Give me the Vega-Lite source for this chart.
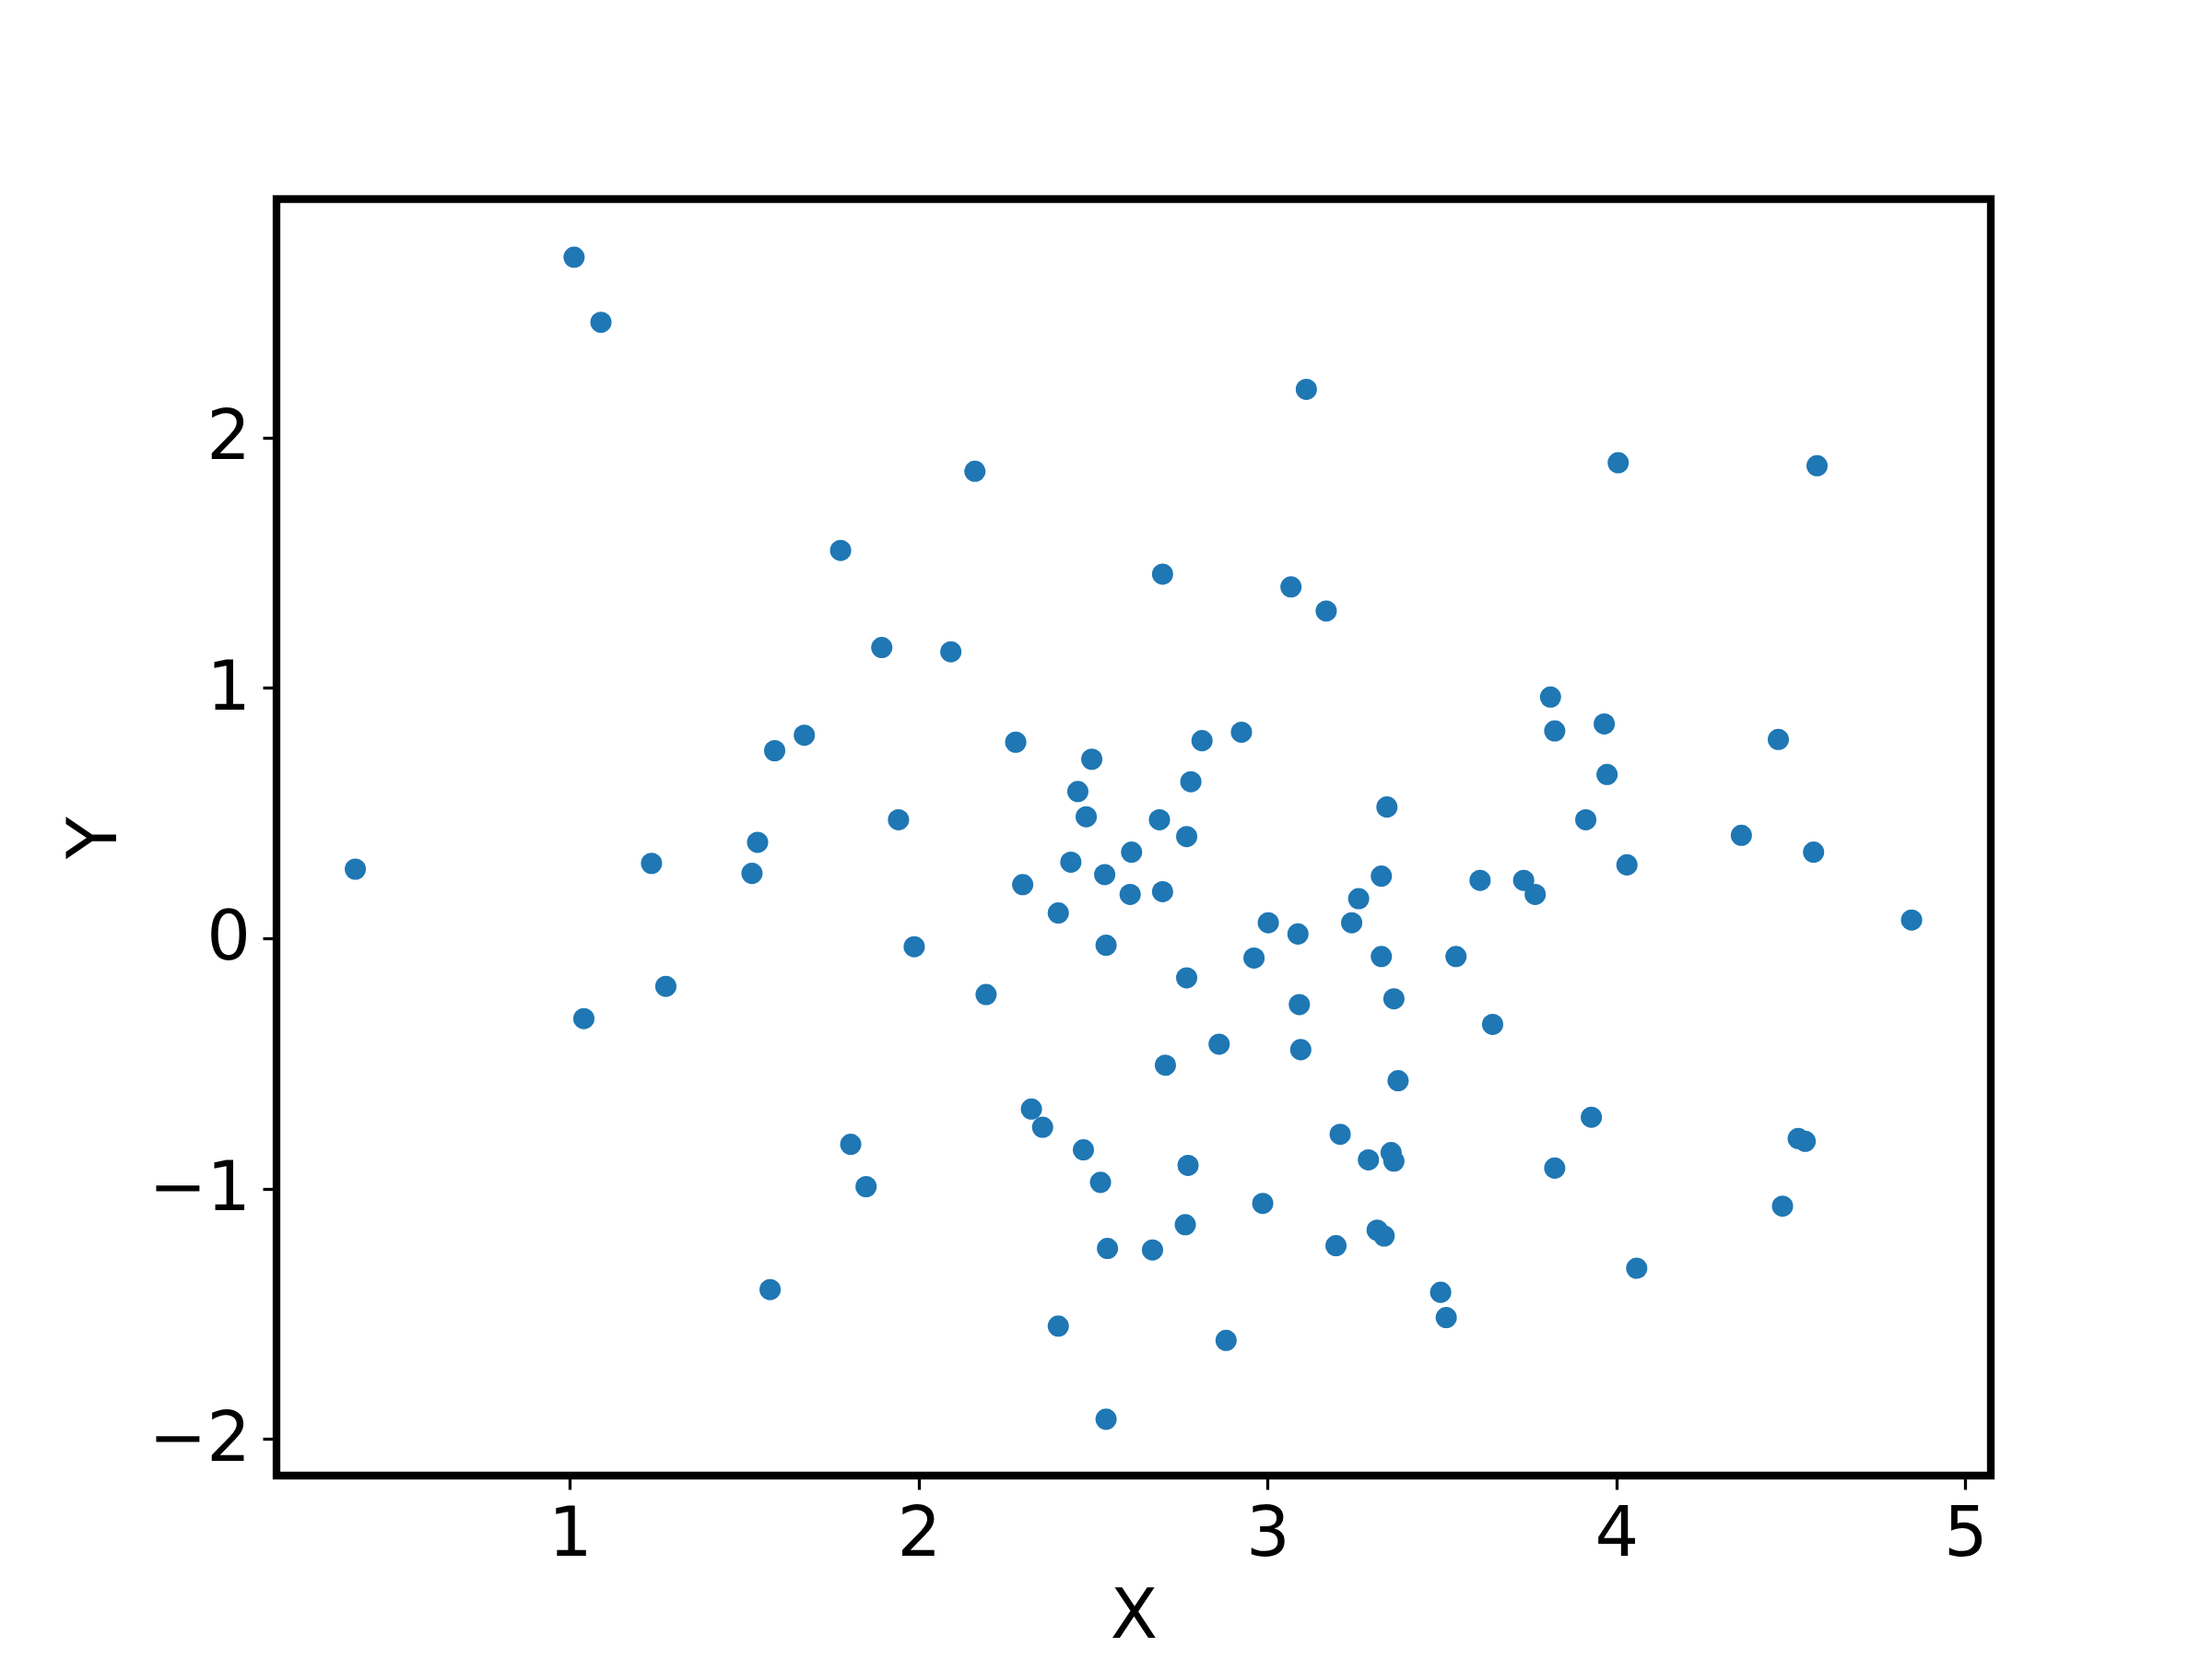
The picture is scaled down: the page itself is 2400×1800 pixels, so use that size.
{
  "$schema": "https://vega.github.io/schema/vega-lite/v6.json",
  "width": 1860,
  "height": 1385,
  "autosize": {"type": "none"},
  "padding": {"left": 300, "top": 216, "right": 240, "bottom": 199},
  "background": "white",
  "config": {
    "view": {"stroke": "black", "strokeWidth": 8.3},
    "font": "DejaVu Sans"
  },
  "data": {"values": [
    {"x":0.385,"y":0.276},{"x":1.012,"y":2.72},{"x":1.089,"y":2.46},{"x":1.040,"y":-0.321},
    {"x":1.234,"y":0.299},{"x":1.275,"y":-0.192},{"x":1.522,"y":0.259},{"x":1.538,"y":0.383},
    {"x":1.587,"y":0.749},{"x":1.672,"y":0.811},{"x":1.574,"y":-1.403},{"x":1.776,"y":1.549},
    {"x":1.805,"y":-0.823},{"x":1.849,"y":-0.992},{"x":1.894,"y":1.161},{"x":1.942,"y":0.473},
    {"x":1.987,"y":-0.034},{"x":2.092,"y":1.144},{"x":2.161,"y":1.865},{"x":2.193,"y":-0.225},
    {"x":2.278,"y":0.783},{"x":2.298,"y":0.214},{"x":2.323,"y":-0.682},{"x":2.355,"y":-0.755},
    {"x":2.400,"y":0.101},{"x":2.400,"y":-1.549},{"x":2.436,"y":0.304},{"x":2.456,"y":0.586},
    {"x":2.472,"y":-0.845},{"x":2.480,"y":0.485},{"x":2.496,"y":0.715},{"x":2.521,"y":-0.975},
    {"x":2.533,"y":0.254},{"x":2.537,"y":-0.028},{"x":2.541,"y":-1.239},{"x":2.537,"y":-1.921},
    {"x":2.606,"y":0.175},{"x":2.610,"y":0.344},{"x":2.670,"y":-1.245},{"x":2.690,"y":0.473},
    {"x":2.699,"y":0.186},{"x":2.699,"y":1.454},{"x":2.707,"y":-0.507},{"x":2.764,"y":-1.144},
    {"x":2.768,"y":-0.158},{"x":2.768,"y":0.406},{"x":2.772,"y":-0.907},{"x":2.780,"y":0.625},
    {"x":2.812,"y":0.789},{"x":2.861,"y":-0.423},{"x":2.881,"y":-1.606},{"x":2.925,"y":0.823},
    {"x":2.961,"y":-0.079},{"x":2.986,"y":-1.059},{"x":3.002,"y":0.062},{"x":3.067,"y":1.403},
    {"x":3.087,"y":0.017},{"x":3.091,"y":-0.265},{"x":3.095,"y":-0.445},{"x":3.111,"y":2.192},
    {"x":3.168,"y":1.307},{"x":3.196,"y":-1.228},{"x":3.208,"y":-0.783},{"x":3.241,"y":0.062},
    {"x":3.261,"y":0.158},{"x":3.289,"y":-0.885},{"x":3.314,"y":-1.166},{"x":3.326,"y":0.248},
    {"x":3.326,"y":-0.073},{"x":3.334,"y":-1.189},{"x":3.342,"y":0.524},{"x":3.354,"y":-0.856},
    {"x":3.362,"y":-0.890},{"x":3.362,"y":-0.242},{"x":3.374,"y":-0.569},{"x":3.496,"y":-1.414},
    {"x":3.512,"y":-1.515},{"x":3.540,"y":-0.073},{"x":3.609,"y":0.231},{"x":3.645,"y":-0.344},
    {"x":3.734,"y":0.231},{"x":3.767,"y":0.175},{"x":3.811,"y":0.963},{"x":3.823,"y":0.828},
    {"x":3.823,"y":-0.918},{"x":3.912,"y":0.473},{"x":3.928,"y":-0.715},{"x":3.965,"y":0.856},
    {"x":3.973,"y":0.654},{"x":4.005,"y":1.899},{"x":4.030,"y":0.293},{"x":4.058,"y":-1.318},
    {"x":4.358,"y":0.411},{"x":4.464,"y":0.794},{"x":4.476,"y":-1.070},{"x":4.521,"y":-0.800},
    {"x":4.541,"y":-0.811},{"x":4.565,"y":0.344},{"x":4.575,"y":1.887},{"x":4.846,"y":0.073}
  ]},
  "mark": {"type": "circle", "color": "#1f77b4", "opacity": 1, "size": 530},
  "encoding": {
    "x": {
      "field": "x", "type": "quantitative",
      "scale": {"domain": [0.159, 5.073], "nice": false, "zero": false},
      "axis": {
        "title": "X", "values": [1, 2, 3, 4, 5], "format": "d",
        "grid": false, "domain": false,
        "tickColor": "black", "tickWidth": 3.3, "tickSize": 15,
        "labelPadding": 12.5, "labelFontSize": 75, "labelColor": "black",
        "labelFont": "DejaVu Sans",
        "titleFontSize": 75, "titleFont": "DejaVu Sans", "titleFontWeight": "normal",
        "titleColor": "black", "titlePadding": 15
      }
    },
    "y": {
      "field": "y", "type": "quantitative",
      "scale": {"domain": [-2.146, 2.952], "nice": false, "zero": false},
      "axis": {
        "title": "Y", "values": [-2, -1, 0, 1, 2],
        "labelExpr": "datum.value < 0 ? '\u2212' + abs(datum.value) : '' + datum.value",
        "grid": false, "domain": false,
        "tickColor": "black", "tickWidth": 3.3, "tickSize": 15,
        "labelPadding": 13.5, "labelFontSize": 75, "labelColor": "black",
        "labelFont": "DejaVu Sans",
        "titleFontSize": 75, "titleFont": "DejaVu Sans", "titleFontWeight": "normal",
        "titleColor": "black", "titlePadding": 19
      }
    }
  }
}
